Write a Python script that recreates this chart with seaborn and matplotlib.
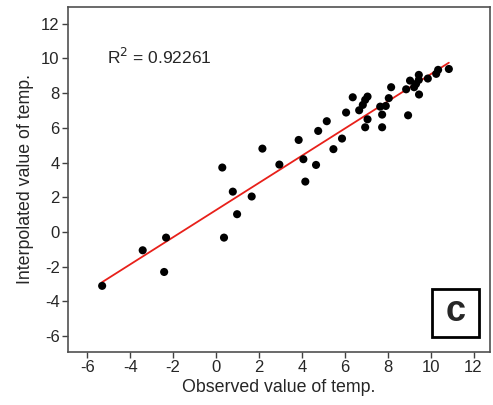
import matplotlib
matplotlib.use("Agg")
import matplotlib.pyplot as plt
import seaborn as sns
import numpy as np
import pandas as pd
from matplotlib.patches import Rectangle

observed = [0.29, 0.78, 1.66, 2.16, 2.95, 3.85, 4.07, 4.16, 4.66, 4.76,
            5.16, 5.47, 5.87, 6.06, 6.37, 6.67, 6.84, 6.95, 7.06, 7.06,
            6.95, 7.65, 7.91, 7.74, 7.74, 8.05, 8.16, 8.86, 8.95, 9.04,
            9.23, 9.32, 9.45, 9.45, 9.46, 9.87, 10.26, 10.35, 10.85,
            -5.31, -3.42, -2.42, -2.33, 0.37, 0.98]
interpolated = [3.71, 2.32, 2.04, 4.80, 3.88, 5.30, 4.19, 2.90, 3.86, 5.82,
                6.38, 4.77, 5.38, 6.88, 7.76, 7.01, 7.32, 7.61, 7.80, 6.49,
                6.03, 7.22, 7.26, 6.76, 6.03, 7.71, 8.34, 8.22, 6.72, 8.72,
                8.34, 8.53, 9.05, 8.76, 7.92, 8.84, 9.11, 9.34, 9.39,
                -3.11, -1.06, -2.31, -0.33, -0.33, 1.02]
ticks = [-6, -4, -2, 0, 2, 4, 6, 8, 10, 12]
r2_label = "R$^2$ = 0.92261"
panel_label = "c"

df = pd.DataFrame({"obs": observed, "interp": interpolated})

sns.set_style("white")
plt.rcParams["font.family"] = ["Liberation Sans", "DejaVu Sans"]
plt.rcParams["axes.unicode_minus"] = False

fig = plt.figure(figsize=(4.93, 4.05), dpi=100)
ax = fig.add_axes([0.138, 0.131, 0.856, 0.852])

sns.regplot(data=df, x="obs", y="interp", ax=ax, ci=None, truncate=True,
            scatter_kws=dict(s=34, color="black", alpha=1, edgecolor="none", zorder=3),
            line_kws=dict(color="#e8201a", lw=1.3, zorder=2))

ax.set_xlim(-6.9, 12.77)
ax.set_ylim(-6.92, 12.97)
ax.set_xticks(ticks)
ax.set_yticks(ticks)
ax.tick_params(axis="both", direction="out", length=4, width=1,
               color="#404040", labelsize=12, pad=2, bottom=True, left=True)
for s in ax.spines.values():
    s.set_color("#505050")
    s.set_linewidth(1.2)

ax.set_xlabel("Observed value of temp.", fontsize=12.8, labelpad=3)
ax.set_ylabel("Interpolated value of temp.", fontsize=12.8, labelpad=5)

ax.text(0.092, 0.855, r2_label, transform=ax.transAxes, fontsize=12.5,
        ha="left", va="center")

box = Rectangle((0.862, 0.0435), 0.111, 0.139, transform=ax.transAxes,
                fill=False, lw=2, edgecolor="black", zorder=5)
ax.add_patch(box)
ax.text(0.9175, 0.118, panel_label, transform=ax.transAxes, fontsize=26,
        fontweight="bold", ha="center", va="center", zorder=6)

fig.savefig("out.png", dpi=100)
